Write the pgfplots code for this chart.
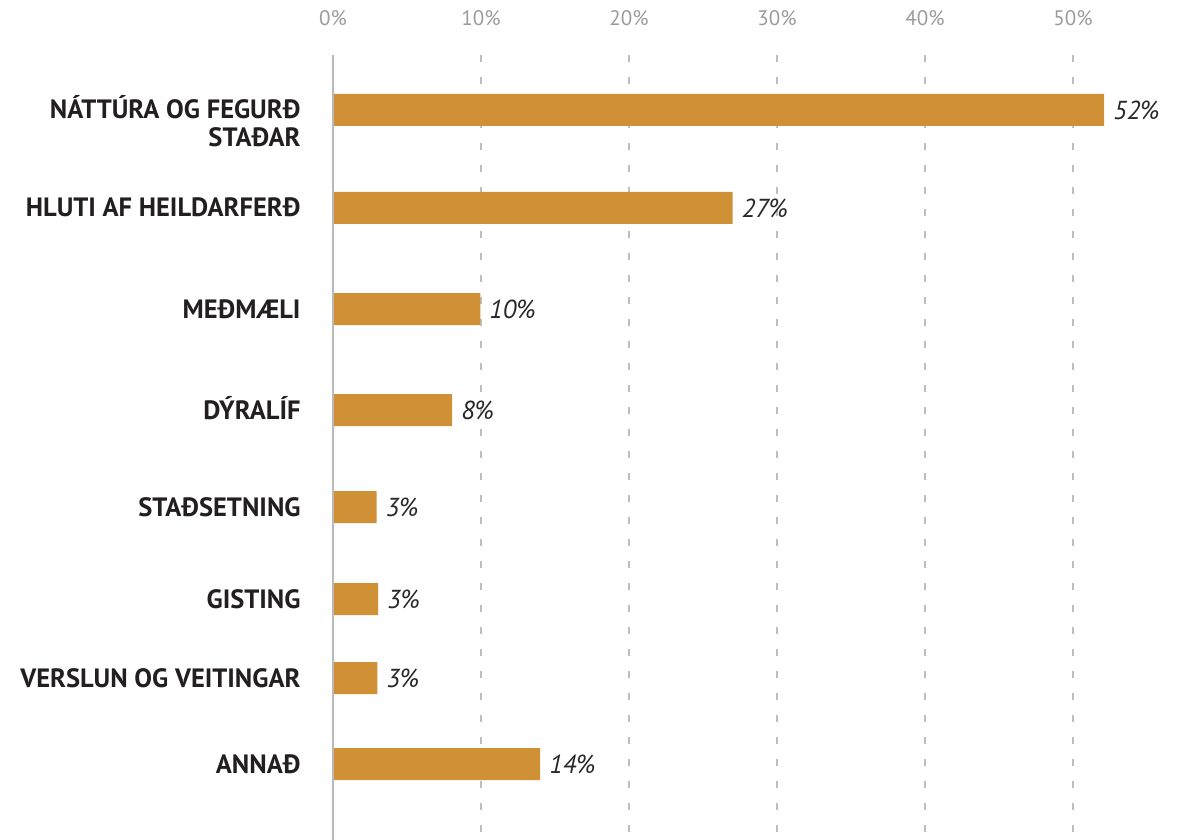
\documentclass[border=0pt]{standalone}
\usepackage{pgfplots}
\pgfplotsset{compat=1.18}
\usepackage{fontspec}
\setmainfont{PT Sans}
\definecolor{barc}{RGB}{208,145,54}
\definecolor{gridc}{RGB}{190,190,190}
\definecolor{axc}{RGB}{185,185,185}
\definecolor{tickc}{RGB}{155,155,155}
\definecolor{labc}{RGB}{35,31,32}
\definecolor{valc}{RGB}{40,40,40}
\begin{document}
\begin{tikzpicture}[x=1pt,y=1pt]
\path[use as bounding box] (0,0) rectangle (1180,840);
\begin{axis}[
  at={(333pt,0pt)}, anchor=south west,
  scale only axis, width=814pt, height=785pt,
  xmin=0, xmax=55, ymin=55, ymax=840, y dir=reverse,
  xbar, bar width=32pt, bar shift=0pt,
  axis line style={draw=none},
  tick style={draw=none},
  clip=false,
  xtick={0,10,20,30,40,50},
  xticklabels={0\%,10\%,20\%,30\%,40\%,50\%},
  xticklabel pos=upper,
  xticklabel style={anchor=base, inner sep=0pt, yshift=29pt, font=\fontsize{21}{21}\selectfont, text=tickc},
  xmajorgrids,
  grid style={gridc, line width=1.3pt, dash pattern=on 7pt off 15pt},
  ytick={110,208,309,410,507,599,678,764},
  yticklabels={{\begin{tabular}[t]{@{}r@{}}NÁTTÚRA OG FEGURÐ\\STAÐAR\end{tabular}},HLUTI AF HEILDARFERÐ,MEÐMÆLI,DÝRALÍF,STAÐSETNING,GISTING,VERSLUN OG VEITINGAR,ANNAÐ},
  yticklabel style={anchor=base east, inner sep=0pt, xshift=-28pt, yshift=-9pt, font=\bfseries\fontsize{26.5}{28}\selectfont, text=labc},
  point meta=x,
  nodes near coords={\pgfmathprintnumber[fixed,precision=0,assume math mode=true]{\pgfplotspointmeta}\%},
  nodes near coords style={anchor=west, inner sep=0pt, xshift=9pt, font=\itshape\fontsize{26}{26}\selectfont, text=valc},
]
\addplot[fill=barc, draw=none] coordinates {
  (52.1,110) (27.0,208) (9.95,309) (8.05,410) (2.95,507) (3.05,599) (3.0,678) (14.0,764)
};
\draw[axc, line width=2.5pt] (axis cs:0,55) -- (axis cs:0,840);
\end{axis}
\end{tikzpicture}
\end{document}
